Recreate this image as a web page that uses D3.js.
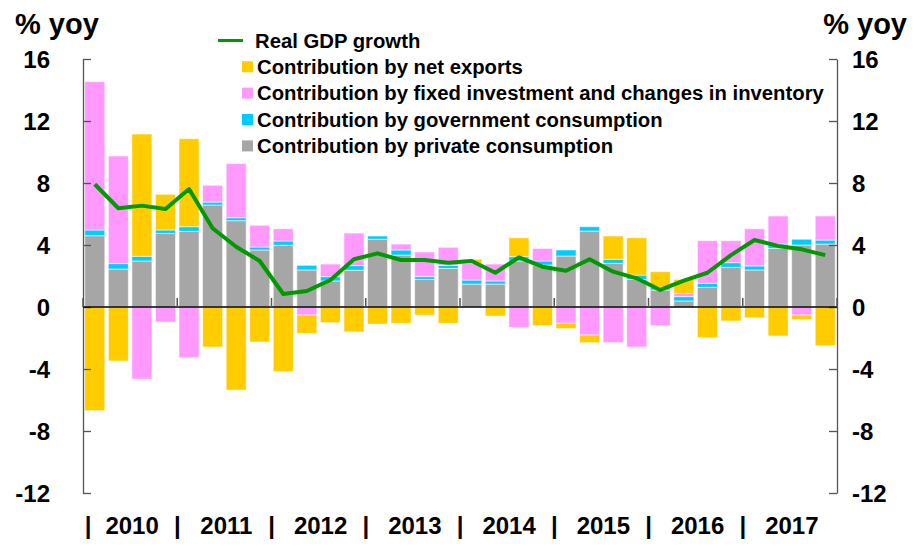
<!DOCTYPE html>
<html>
<head>
<meta charset="utf-8">
<script src="https://cdn.jsdelivr.net/npm/d3@7"></script>
<style>
  body { margin: 0; background: #fff; }
  text { font-family: "Liberation Sans", Arial, sans-serif; font-weight: bold; fill: #000; }
</style>
</head>
<body>
<div id="chart"></div>
<script>
// quarters 2010Q1 .. 2017Q4
var years = ["2010", "2011", "2012", "2013", "2014", "2015", "2016", "2017"];
var quarters = [];
years.forEach(function(y) { for (var q = 1; q <= 4; q++) quarters.push(y + "Q" + q); });

var gdp = [7.92, 6.37, 6.54, 6.32, 7.61, 5.08, 3.89, 2.97, 0.84, 1.03, 1.74, 3.08, 3.46, 3.03, 3.03, 2.86,
           2.97, 2.21, 3.2, 2.6, 2.34, 3.08, 2.28, 1.85, 1.1, 1.7, 2.21, 3.35, 4.32, 3.94, 3.72, 3.35];
var privateCons = [4.6, 2.45, 2.97, 4.75, 4.88, 6.58, 5.57, 3.68, 3.98, 2.39, 1.68, 2.37, 4.37, 3.35, 1.78, 2.49,
                   1.48, 1.48, 2.97, 2.71, 3.29, 4.9, 2.82, 1.78, 1.1, 0.39, 1.27, 2.56, 2.39, 3.78, 4.0, 4.06];
var govCons = [0.37, 0.35, 0.3, 0.22, 0.3, 0.19, 0.19, 0.19, 0.28, 0.3, 0.28, 0.3, 0.21, 0.33, 0.18, 0.2,
               0.26, 0.2, 0.28, 0.26, 0.39, 0.28, 0.26, 0.28, 0.17, 0.28, 0.26, 0.3, 0.26, 0.28, 0.37, 0.26];
var investment = [9.57, 6.94, -4.65, -0.97, -3.27, 1.08, 3.49, 1.4, 0.79, -0.52, 0.81, 2.1, 0, 0.38, 1.59, 1.16,
                  1.08, 1.09, -1.31, 0.81, -1.05, -1.81, -2.3, -2.58, -1.2, 0.21, 2.75, 1.42, 2.4, 1.81, -0.52, 1.55];
var netExports = [-6.69, -3.48, 7.89, 2.3, 5.68, -2.58, -5.36, -2.26, -4.17, -1.18, -1.01, -1.61, -1.1, -1.05, -0.52, -1.05,
                  0.26, -0.58, 1.22, -1.2, -0.34, -0.49, 1.5, 2.41, 1.01, 0.9, -1.98, -0.9, -0.69, -1.87, -0.28, -2.49];
var yTicks = [-12, -8, -4, 0, 4, 8, 12, 16];

var keys = ["private", "gov", "invest", "netexp"];
var colors = {private: "#a6a6a6", gov: "#00ccff", invest: "#ff99ff", netexp: "#ffcc00"};

var rows = quarters.map(function(q, i) {
    return {q: q, private: privateCons[i], gov: govCons[i], invest: investment[i], netexp: netExports[i]};
});

var width = 920, height = 547;
var plotL = 83, plotR = 837, plotT = 59, plotB = 493;

var svg = d3.select("#chart").append("svg")
    .attr("width", width)
    .attr("height", height);

var x = d3.scaleBand().domain(quarters).range([plotL, plotR]).paddingInner(0.15).paddingOuter(0.075);
var y = d3.scaleLinear().domain([-12, 16]).range([plotB, plotT]);

// bars
var series = d3.stack().keys(keys).offset(d3.stackOffsetDiverging)(rows);
svg.append("g").attr("class", "bars")
    .selectAll("g").data(series).enter().append("g")
    .attr("fill", function(d) { return colors[d.key]; })
    .selectAll("rect").data(function(d) { return d; }).enter().append("rect")
    .attr("x", function(d) { return x(d.data.q); })
    .attr("width", x.bandwidth())
    .attr("y", function(d) { return y(Math.max(d[0], d[1])); })
    .attr("height", function(d) { return Math.abs(y(d[0]) - y(d[1])); })
    .attr("stroke", "#fff")
    .attr("stroke-opacity", 0.55)
    .attr("stroke-width", 1);

// axes
var axisCol = "#555";
var yl = svg.append("g").attr("transform", "translate(" + plotL + ",0)")
    .call(d3.axisRight(y).tickValues(yTicks).tickSize(8).tickSizeOuter(0).tickFormat(""));
var yr = svg.append("g").attr("transform", "translate(" + plotR + ",0)")
    .call(d3.axisLeft(y).tickValues(yTicks).tickSize(8).tickSizeOuter(0).tickFormat(""));
[yl, yr].forEach(function(g) {
    g.select(".domain").attr("stroke", axisCol).attr("stroke-width", 1.3);
    g.selectAll(".tick line").attr("stroke", axisCol).attr("stroke-width", 1.3);
});

svg.append("g").selectAll("text").data(yTicks).enter().append("text")
    .attr("x", 50).attr("y", function(d) { return y(d) + 9; })
    .attr("text-anchor", "end").style("font-size", "24px")
    .text(function(d) { return d; });
svg.append("g").selectAll("text").data(yTicks).enter().append("text")
    .attr("x", 852).attr("y", function(d) { return y(d) + 9; })
    .attr("text-anchor", "start").style("font-size", "24px")
    .text(function(d) { return d; });

svg.append("text").attr("x", 15).attr("y", 34).style("font-size", "29px").text("% yoy");
svg.append("text").attr("x", 907).attr("y", 34).attr("text-anchor", "end").style("font-size", "29px").text("% yoy");

// zero line and year marks
svg.append("line")
    .attr("x1", plotL).attr("x2", plotR).attr("y1", y(0)).attr("y2", y(0))
    .attr("stroke", "#000").attr("stroke-width", 1.6);
var step = x.step();
svg.append("g").selectAll("line").data(years.concat(["end"])).enter().append("line")
    .attr("x1", function(d, i) { return plotL + i * 4 * step; })
    .attr("x2", function(d, i) { return plotL + i * 4 * step; })
    .attr("y1", y(0)).attr("y2", y(0) - 9)
    .attr("stroke", axisCol).attr("stroke-width", 1.5);

// GDP line
var line = d3.line()
    .x(function(d, i) { return x(quarters[i]) + x.bandwidth() / 2; })
    .y(function(d) { return y(d); });
svg.append("path").datum(gdp)
    .attr("d", line)
    .attr("fill", "none")
    .attr("stroke", "#009900")
    .attr("stroke-width", 4)
    .attr("stroke-linejoin", "round");

// year labels
var xl = svg.append("g");
years.forEach(function(yv, i) {
    var x0 = plotL + i * 4 * step;
    xl.append("text").attr("x", i === 0 ? x0 + 5 : x0).attr("y", 534)
        .attr("text-anchor", "middle").style("font-size", "24px").text("|");
    xl.append("text").attr("x", x0 + 2 * step + 2).attr("y", 534)
        .attr("text-anchor", "middle").style("font-size", "24px").text(yv);
});

// legend
var legendItems = [
    {label: "Contribution by net exports", key: "netexp"},
    {label: "Contribution by fixed investment and changes in inventory", key: "invest"},
    {label: "Contribution by government consumption", key: "gov"},
    {label: "Contribution by private consumption", key: "private"}
];
var lg = svg.append("g").attr("class", "legend");
lg.append("line").attr("x1", 218).attr("x2", 243).attr("y1", 40.5).attr("y2", 40.5)
    .attr("stroke", "#009900").attr("stroke-width", 3);
lg.append("text").attr("x", 255).attr("y", 47.5).style("font-size", "20.3px").text("Real GDP growth");
legendItems.forEach(function(d, i) {
    var cy = 66.7 + i * 26.4;
    lg.append("rect").attr("x", 242).attr("y", cy - 5.5).attr("width", 11).attr("height", 11)
        .attr("fill", colors[d.key]);
    lg.append("text").attr("x", 257).attr("y", cy + 7).style("font-size", "20.3px").text(d.label);
});
</script>
</body>
</html>
